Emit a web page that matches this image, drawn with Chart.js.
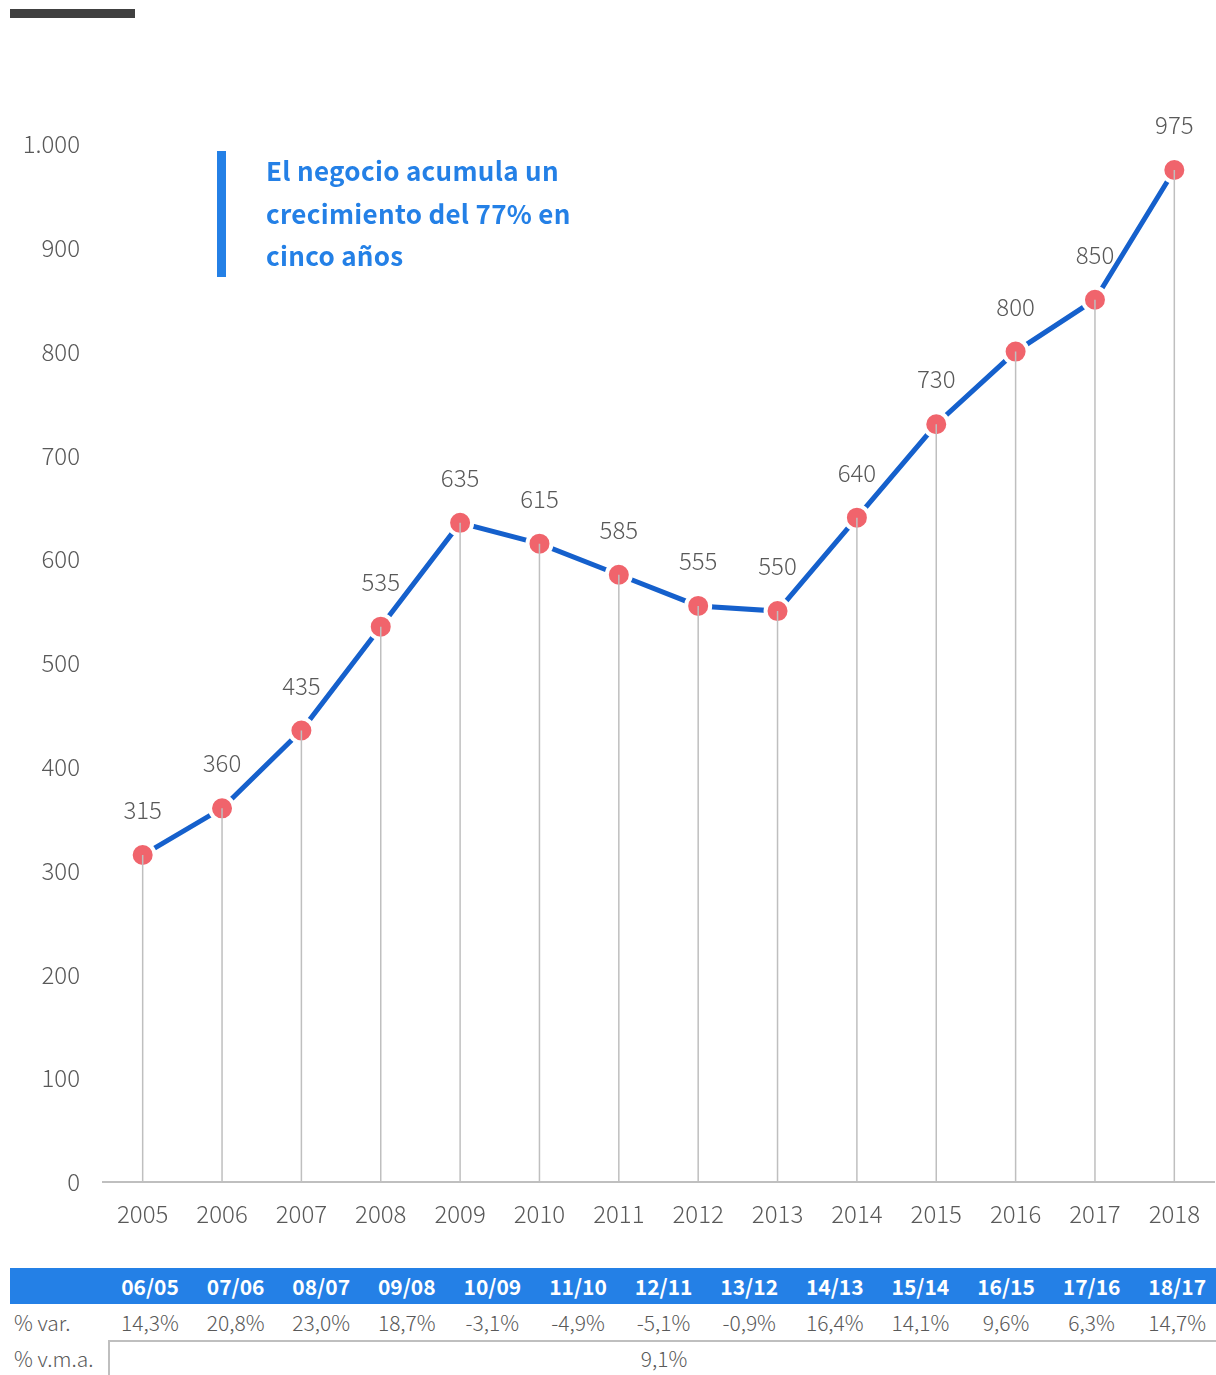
<!DOCTYPE html>
<html>
<head>
<meta charset="utf-8">
<script src="https://cdn.jsdelivr.net/npm/chart.js@4.4.1/dist/chart.umd.min.js"></script>
<style>
  body { margin: 0; background: #fff; font-family: "Noto Sans CJK JP", "Noto Sans", sans-serif; }
  #wrap { position: relative; width: 1216px; height: 1375px; overflow: hidden; }
  #topbar { position: absolute; left: 10px; top: 9px; width: 125px; height: 9px; background: #404040; }
  #note { position: absolute; left: 217px; top: 151px; height: 126px; border-left: 9px solid #2480e6; }
  #note div { position: absolute; left: 40px; top: 0; width: 420px; color: #2480e6; font-weight: bold; font-size: 26px; letter-spacing: 0.3px; line-height: 42.5px; margin-top: -2px; }
  #chartBox { position: absolute; left: 0; top: 0; width: 1216px; height: 1240px; }
  #tbl { position: absolute; left: 10px; top: 1268px; width: 1206px; }
  .hdr { position: absolute; left: 0; top: 0; width: 1206px; height: 36px; background: #2480e6; }
  .cell { position: absolute; width: 86px; margin-left: -43px; text-align: center; }
  .hdr .cell { color: #fff; font-weight: bold; font-size: 21px; top: 0; line-height: 36px; }
  .row1 { position: absolute; left: 0; top: 36px; width: 1206px; height: 36px; }
  .row1 .cell { color: #595959; font-size: 21px; font-weight: 300; line-height: 36px; }
  .lbl { position: absolute; left: 4px; color: #595959; font-size: 21px; font-weight: 300; line-height: 36px; }
  .row2 { position: absolute; left: 98px; top: 72px; width: 1108px; height: 40px; border-top: 2px solid #bfbfbf; border-left: 2px solid #bfbfbf; }
  .row2 span { position: absolute; left: 0; width: 1108px; text-align: center; color: #595959; font-size: 21px; font-weight: 300; line-height: 32px; }
</style>
</head>
<body>
<div id="wrap">
  <div id="topbar"></div>
  <div id="chartBox"><canvas id="linea" width="1216" height="1240"></canvas></div>
  <div id="note"><div>El negocio acumula un<br>crecimiento del 77% en<br>cinco años</div></div>
  <div id="tbl">
    <div class="hdr" id="hdr"></div>
    <div class="row1" id="row1"><span class="lbl">% var.</span></div>
    <span class="lbl" style="top:72px;">% v.m.a.</span>
    <div class="row2"><span>9,1%</span></div>
  </div>
</div>
<script>
var years = ['2005','2006','2007','2008','2009','2010','2011','2012','2013','2014','2015','2016','2017','2018'];
var negocio = [315, 360, 435, 535, 635, 615, 585, 555, 550, 640, 730, 800, 850, 975];
var periodos = ['06/05','07/06','08/07','09/08','10/09','11/10','12/11','13/12','14/13','15/14','16/15','17/16','18/17'];
var variacion = ['14,3%','20,8%','23,0%','18,7%','-3,1%','-4,9%','-5,1%','-0,9%','16,4%','14,1%','9,6%','6,3%','14,7%'];

var fuente = '"Noto Sans CJK JP", "Noto Sans", sans-serif';
var gris = '#595959';

// table under the chart
var hdr = document.getElementById('hdr');
var row1 = document.getElementById('row1');
for (var i = 0; i < periodos.length; i++) {
    var x = 140 + i * 85.6;
    var c = document.createElement('span');
    c.className = 'cell'; c.style.left = x + 'px'; c.textContent = periodos[i];
    hdr.appendChild(c);
    var v = document.createElement('span');
    v.className = 'cell'; v.style.left = x + 'px'; v.textContent = variacion[i];
    row1.appendChild(v);
}

// drop lines + value labels
var extras = {
    id: 'extras',
    afterDatasetsDraw: function (chart) {
        var ctx = chart.ctx;
        var meta = chart.getDatasetMeta(0);
        var yBase = chart.scales.y.getPixelForValue(0);
        ctx.save();
        ctx.strokeStyle = '#bfbfbf';
        ctx.lineWidth = 1.5;
        meta.data.forEach(function (pt) {
            ctx.beginPath();
            ctx.moveTo(pt.x, pt.y);
            ctx.lineTo(pt.x, yBase);
            ctx.stroke();
        });
        ctx.fillStyle = gris;
        ctx.font = '300 24px ' + fuente;
        ctx.textAlign = 'center';
        ctx.textBaseline = 'middle';
        meta.data.forEach(function (pt, i) {
            ctx.fillText(negocio[i], pt.x, pt.y - 45);
        });
        ctx.restore();
    }
};

var chart = new Chart(document.getElementById('linea'), {
    type: 'line',
    data: {
        labels: years,
        datasets: [{
            data: negocio,
            borderColor: '#1560cc',
            borderWidth: 5,
            tension: 0,
            pointRadius: 12,
            pointBackgroundColor: '#f0646c',
            pointBorderColor: '#ffffff',
            pointBorderWidth: 4,
            fill: false,
            clip: false
        }]
    },
    options: {
        responsive: false,
        animation: false,
        layout: { autoPadding: false, padding: { left: 0, top: 144, right: 2, bottom: 8 } },
        plugins: { legend: { display: false }, tooltip: { enabled: false } },
        scales: {
            x: {
                offset: true,
                grid: { display: false, drawTicks: false },
                border: { display: true, color: '#bfbfbf', width: 2 },
                ticks: { color: gris, font: { family: fuente, size: 24, weight: '300' }, padding: 17, maxRotation: 0 },
                afterFit: function (s) { s.height = 50; s.paddingLeft = 0; s.paddingRight = 0; }
            },
            y: {
                min: 0, max: 1000,
                grid: { display: false, drawTicks: false },
                border: { display: false },
                ticks: {
                    stepSize: 100, color: gris, padding: 23,
                    font: { family: fuente, size: 24, weight: '300' },
                    callback: function (v) { return v === 1000 ? '1.000' : v; }
                },
                afterFit: function (s) { s.width = 103; s.paddingTop = 0; s.paddingBottom = 0; }
            }
        }
    },
    plugins: [extras]
});
</script>
</body>
</html>
